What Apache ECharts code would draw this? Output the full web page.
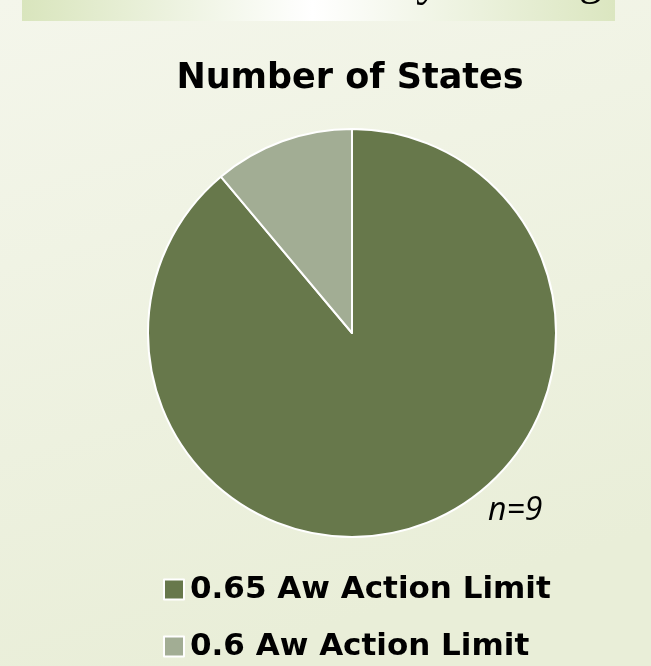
<!DOCTYPE html>
<html>
<head>
<meta charset="utf-8">
<title>Number of States</title>
<script src="https://cdn.jsdelivr.net/npm/echarts@6/dist/echarts.min.js"></script>
<style>
  html, body { margin: 0; padding: 0; }
  #chart { width: 651px; height: 666px; }
</style>
</head>
<body>
<div id="chart"></div>
<script>
// data
const categories = ["0.65 Aw Action Limit", "0.6 Aw Action Limit"];
const stateCounts = [8, 1];
const sliceColors = ["#67784b", "#a2ad94"];
const titleText = "Number of States";
const noteText = "n=9";

const myChart = echarts.init(document.getElementById("chart"), null, { renderer: "canvas" });

const legendRowTops = [569, 626];
const legendText = {
  fontFamily: "DejaVu Sans",
  fontWeight: "bold",
  fontSize: 31,
  color: "#000",
  padding: [0, 0, 0, 1]
};

const option = {
  backgroundColor: {
    type: "linear", x: 0, y: 0, x2: 0.3, y2: 1,
    colorStops: [
      { offset: 0, color: "#f4f6eb" },
      { offset: 1, color: "#e9eed8" }
    ]
  },
  title: {
    text: titleText,
    left: 345,
    top: 56,
    textAlign: "center",
    textStyle: {
      fontFamily: "DejaVu Sans",
      fontWeight: "bold",
      fontSize: 35,
      color: "#000"
    }
  },
  // one legend per row so each row sits where it does in the picture
  legend: categories.map((name, i) => ({
    orient: "vertical",
    left: 158,
    top: legendRowTops[i],
    itemWidth: 20,
    itemHeight: 20,
    icon: "rect",
    itemStyle: { borderColor: "#fff", borderWidth: 2 },
    textStyle: legendText,
    data: [name]
  })),
  graphic: [
    {
      // cut-off slide banner at the top
      type: "rect",
      shape: { x: 22, y: 0, width: 593, height: 21 },
      style: {
        fill: {
          type: "linear", x: 0, y: 0, x2: 1, y2: 0,
          colorStops: [
            { offset: 0, color: "#d9e5bd" },
            { offset: 0.49, color: "#ffffff" },
            { offset: 1, color: "#dbe6c0" }
          ]
        }
      },
      z: -1
    },
    {
      type: "text",
      style: { text: "y", x: 416, y: 6, verticalAlign: "bottom", font: "48px 'Liberation Serif'", fill: "#000" }
    },
    {
      type: "text",
      style: { text: "g", x: 579, y: 5, verticalAlign: "bottom", font: "46px 'Liberation Serif'", fill: "#000" }
    },
    {
      type: "text",
      style: { text: noteText, x: 488, y: 511, verticalAlign: "middle", font: "italic 32px 'Open Sans'", fill: "#000" }
    }
  ],
  series: [
    {
      type: "pie",
      center: [352, 333],
      radius: 204,
      startAngle: 90,
      clockwise: true,
      label: { show: false },
      labelLine: { show: false },
      emphasis: { disabled: true },
      itemStyle: { borderColor: "#fff", borderWidth: 2 },
      data: categories.map((name, i) => ({
        name: name,
        value: stateCounts[i],
        itemStyle: { color: sliceColors[i] }
      }))
    }
  ]
};

option && myChart.setOption(option);
window.addEventListener("resize", myChart.resize);
</script>
</body>
</html>
